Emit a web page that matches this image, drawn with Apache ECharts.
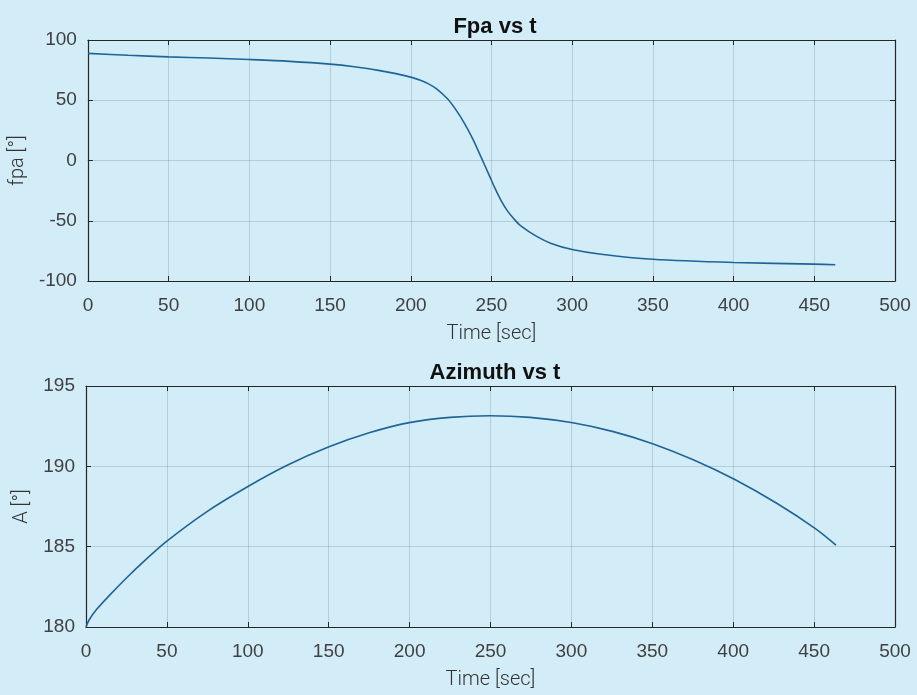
<!DOCTYPE html>
<html>
<head>
<meta charset="utf-8">
<script src="https://cdn.jsdelivr.net/npm/echarts@6/dist/echarts.min.js"></script>
<style>
html,body{margin:0;padding:0;background:#D3EDF8;}
#chart{width:917px;height:695px;}
</style>
</head>
<body>
<div id="chart"></div>
<script>
var xTicks = [0, 50, 100, 150, 200, 250, 300, 350, 400, 450, 500];
var fpaTicks = [-100, -50, 0, 50, 100];
var azTicks = [180, 185, 190, 195];

var fpaT = [0, 25, 50, 75, 100, 125, 150, 165, 180, 190, 200, 206, 211, 216, 222.9, 228, 233, 238.4, 243.5, 248.7, 252, 255.9, 260, 264, 268, 278, 287, 300, 318, 350, 400, 450, 463];
var fpaV = [88.9, 87.3, 86, 85, 83.8, 82.3, 80, 77.8, 74.8, 72.3, 69.2, 66.6, 63.6, 59.5, 51, 42, 31.5, 18, 3, -12.5, -22.5, -33, -42, -48.6, -54, -63, -68.8, -73.8, -77.8, -82, -84.7, -86, -86.5];

var azT = [0, 2, 6.6, 14.8, 25, 35.4, 49.4, 75, 99.3, 124, 149.8, 175.5, 199.8, 225, 249.7, 274.4, 300.8, 325.9, 350.2, 375.3, 401, 426.9, 451, 463.5];
var azV = [180, 180.45, 181.1, 182.0, 183.05, 184.05, 185.3, 187.2, 188.7, 190.05, 191.2, 192.1, 192.72, 193.05, 193.15, 193.05, 192.71, 192.16, 191.41, 190.41, 189.18, 187.7, 186.11, 185.1];

var titles = ['Fpa vs t', 'Azimuth vs t'];
var xName = 'Time [sec]';
var yNames = ['fpa [°]', 'A [°]'];

function pairs(xs, ys) { return xs.map(function (x, i) { return [x, ys[i]]; }); }

var axisColor = '#262626';
var labelColor = '#404040';
var gridColor = 'rgba(60,80,90,0.2)';
var tickFont = 'Liberation Sans';
var tickSize = 19;

function xAxisMain(gi) {
  return {
    type: 'value', gridIndex: gi, min: xTicks[0], max: xTicks[xTicks.length - 1], interval: 50,
    name: xName, nameLocation: 'middle', nameGap: 43,
    nameTextStyle: { fontFamily: 'Roboto', fontWeight: 300, fontSize: 20, color: '#333' },
    axisLine: { show: true, onZero: false, lineStyle: { color: axisColor, width: 1.2 } },
    axisTick: { show: true, inside: true, length: 5, lineStyle: { color: axisColor } },
    axisLabel: { margin: 15, fontFamily: tickFont, fontSize: tickSize, color: labelColor },
    splitLine: { show: true, lineStyle: { color: gridColor, width: 1 } }
  };
}
function xAxisTop(gi) {
  return {
    type: 'value', gridIndex: gi, position: 'top', min: xTicks[0], max: xTicks[xTicks.length - 1], interval: 50,
    axisLine: { show: true, onZero: false, lineStyle: { color: axisColor, width: 1.2 } },
    axisTick: { show: true, inside: true, length: 5, lineStyle: { color: axisColor } },
    axisLabel: { show: false }, splitLine: { show: false }
  };
}
function yAxisMain(gi, ticks, interval, name, gap) {
  return {
    type: 'value', gridIndex: gi, min: ticks[0], max: ticks[ticks.length - 1], interval: interval,
    name: name, nameLocation: 'middle', nameGap: gap, nameRotate: 90,
    nameTextStyle: { fontFamily: 'Roboto', fontWeight: 300, fontSize: 20, color: '#333' },
    axisLine: { show: true, onZero: false, lineStyle: { color: axisColor, width: 1.2 } },
    axisTick: { show: true, inside: true, length: 5, lineStyle: { color: axisColor } },
    axisLabel: { margin: 11, fontFamily: tickFont, fontSize: tickSize, color: labelColor },
    splitLine: { show: true, lineStyle: { color: gridColor, width: 1 } }
  };
}
function yAxisRight(gi, ticks, interval) {
  return {
    type: 'value', gridIndex: gi, position: 'right', min: ticks[0], max: ticks[ticks.length - 1], interval: interval,
    axisLine: { show: true, onZero: false, lineStyle: { color: axisColor, width: 1.2 } },
    axisTick: { show: true, inside: true, length: 5, lineStyle: { color: axisColor } },
    axisLabel: { show: false }, splitLine: { show: false }
  };
}

var chart = echarts.init(document.getElementById('chart'), null, { renderer: 'canvas' });
chart.setOption({
  backgroundColor: '#D3EDF8',
  animation: false,
  title: [
    { text: titles[0], left: 490, top: 11, textAlign: 'center',
      textStyle: { fontFamily: 'Liberation Sans', fontWeight: 'bold', fontSize: 22, color: '#111' } },
    { text: titles[1], left: 490, top: 357, textAlign: 'center',
      textStyle: { fontFamily: 'Liberation Sans', fontWeight: 'bold', fontSize: 22, color: '#111' } }
  ],
  grid: [
    { left: 86, top: 40, width: 809, height: 241 },
    { left: 86, top: 386, width: 809, height: 241 }
  ],
  xAxis: [xAxisMain(0), xAxisTop(0), xAxisMain(1), xAxisTop(1)],
  yAxis: [
    yAxisMain(0, fpaTicks, 50, yNames[0], 54), yAxisRight(0, fpaTicks, 50),
    yAxisMain(1, azTicks, 5, yNames[1], 49), yAxisRight(1, azTicks, 5)
  ],
  series: [
    { type: 'line', xAxisIndex: 0, yAxisIndex: 0, data: pairs(fpaT, fpaV), smooth: 0.3,
      showSymbol: false, lineStyle: { color: '#1f6496', width: 1.6 } },
    { type: 'line', xAxisIndex: 2, yAxisIndex: 2, data: pairs(azT, azV), smooth: 0.3,
      showSymbol: false, lineStyle: { color: '#1f6496', width: 1.6 } }
  ]
});
</script>
</body>
</html>
